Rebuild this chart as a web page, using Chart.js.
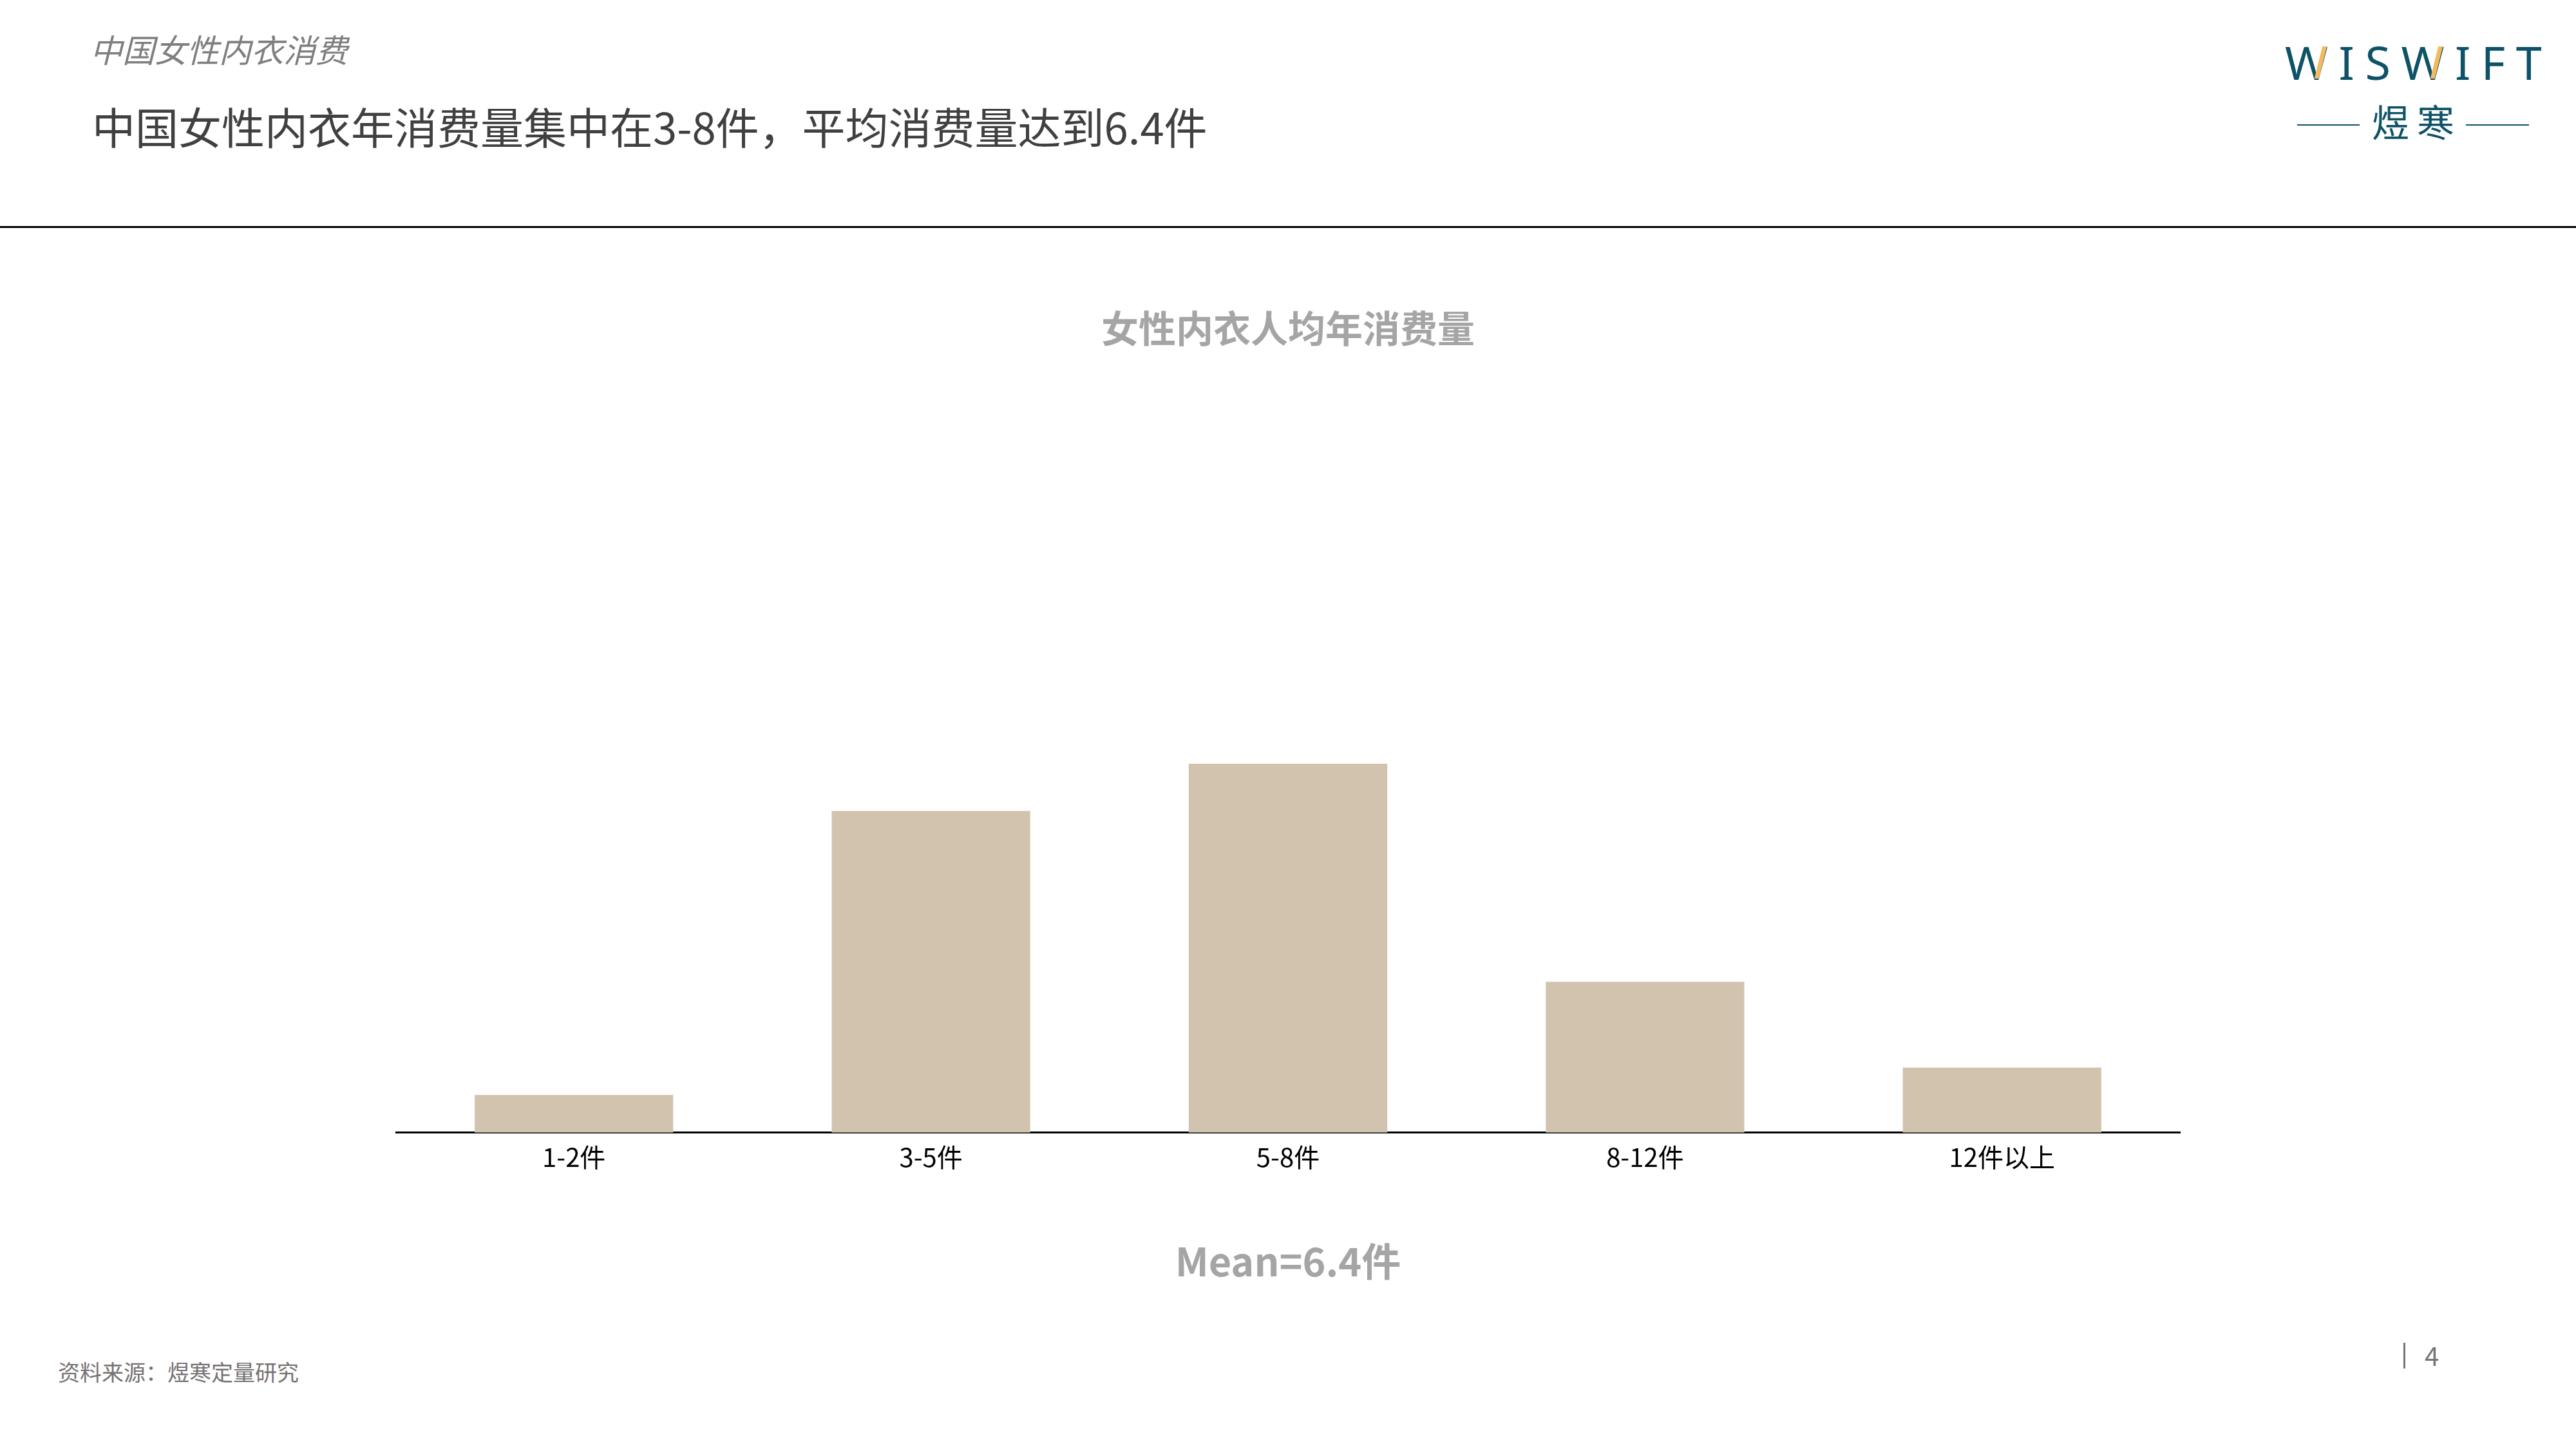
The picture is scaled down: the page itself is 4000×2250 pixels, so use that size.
<!DOCTYPE html>
<html>
<head>
<meta charset="utf-8">
<script src="https://cdn.jsdelivr.net/npm/chart.js@4.4.1/dist/chart.umd.min.js"></script>
<style>
  body { margin: 0; width: 4000px; height: 2250px; background: #fff; position: relative; overflow: hidden;
         font-family: "Noto Sans CJK SC", "Noto Sans", sans-serif; }
  .abs { position: absolute; white-space: nowrap; line-height: 1; }
  #kicker { left: 140px; top: 50px; font-size: 50px; color: #7f7f7f; font-style: italic; }
  #headline { left: 143px; top: 161px; font-size: 67px; color: #404040; }
  #rule { left: 0; top: 351px; width: 4000px; height: 3px; background: #000; }
  #logo { left: 3548px; top: 60px; font-family: "Noto Sans", sans-serif; font-size: 72px; color: #0d5266;
          letter-spacing: 16.5px; }
  #logo .w { position: relative; display: inline-block; }
  #logo .w i { position: absolute; left: 52px; top: 12px; width: 7px; height: 50px; background: #f5b95f;
               transform: skewX(-14deg); }
  #logoCn { left: 3683px; top: 158px; font-size: 58px; color: #0d5266; letter-spacing: 12px; }
  .dash { position: absolute; top: 193px; height: 2px; background: #0d5266; }
  #source { left: 90px; top: 2113px; font-size: 34px; color: #767171; }
  #pageBar { left: 3732px; top: 2085px; width: 3px; height: 40px; background: #757575; }
  #pageNo { left: 3765px; top: 2084px; font-size: 40px; color: #757575; }
  #chartBox { position: absolute; left: 614px; top: 440px; width: 2772px; height: 1575px; }
</style>
</head>
<body>
<div id="kicker" class="abs">中国女性内衣消费</div>
<div id="headline" class="abs">中国女性内衣年消费量集中在3-8件，平均消费量达到6.4件</div>
<div id="rule" class="abs"></div>
<div id="logo" class="abs"><span class="w">W<i></i></span>IS<span class="w">W<i></i></span>IFT</div>
<div id="logoCn" class="abs">煜寒</div>
<div class="dash" style="left:3567px;width:97px"></div>
<div class="dash" style="left:3829px;width:98px"></div>
<div id="source" class="abs">资料来源：煜寒定量研究</div>
<div id="pageBar" class="abs"></div>
<div id="pageNo" class="abs">4</div>

<div id="chartBox"><canvas id="barChart"></canvas></div>

<script>
// 女性内衣人均年消费量 (share of respondents, %)
const categories = ["1-2件", "3-5件", "5-8件", "8-12件", "12件以上"];
const shareValues = [4.0, 34.1, 39.1, 16.0, 6.9];
const chartTitle = "女性内衣人均年消费量";
const meanLabel = "Mean=6.4件";

const cjkFont = '"Noto Sans CJK SC", "Noto Sans", sans-serif';

new Chart(document.getElementById("barChart"), {
    type: "bar",
    data: {
        labels: categories,
        datasets: [{
            data: shareValues,
            backgroundColor: "#d2c3ae",
            borderWidth: 0,
            barPercentage: 0.556,
            categoryPercentage: 1
        }]
    },
    options: {
        responsive: true,
        maintainAspectRatio: false,
        animation: false,
        layout: { padding: 0 },
        plugins: {
            legend: { display: false },
            tooltip: { enabled: false },
            title: {
                display: true,
                text: chartTitle,
                color: "#a5a5a5",
                font: { family: cjkFont, size: 58, weight: "bold", lineHeight: 1.2 },
                padding: { top: 35, bottom: 555 }
            },
            subtitle: {
                display: true,
                position: "bottom",
                text: meanLabel,
                color: "#a5a5a5",
                font: { family: cjkFont, size: 61, weight: "bold", lineHeight: 1.2 },
                padding: { top: 87, bottom: 20 }
            }
        },
        scales: {
            x: {
                grid: { display: false, drawTicks: false, tickLength: 0 },
                border: { display: true, color: "#000", width: 3 },
                ticks: {
                    color: "#000",
                    padding: 14,
                    autoSkip: false,
                    maxRotation: 0,
                    font: { family: cjkFont, size: 40, lineHeight: 1.2 }
                }
            },
            y: {
                display: false,
                min: 0,
                max: 45
            }
        }
    }
});
</script>
</body>
</html>
